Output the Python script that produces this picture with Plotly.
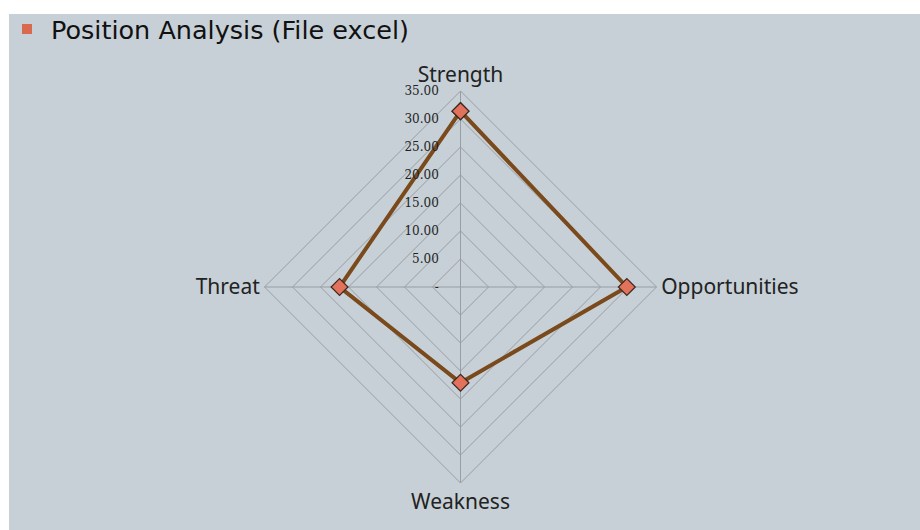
import plotly.graph_objects as go

categories = ["Strength", "Opportunities", "Weakness", "Threat"]
values = [31.4, 29.7, 17.1, 21.6]
tick_vals = [0, 5, 10, 15, 20, 25, 30, 35]
tick_text = ["-", "5.00", "10.00", "15.00", "20.00", "25.00", "30.00", "35.00"]
title_text = "Position Analysis (File excel)"

W, H = 920, 530
cx, cy, R = 460.5, 287, 196

fig = go.Figure()
fig.add_trace(go.Scatterpolar(
    r=values + values[:1],
    theta=categories + categories[:1],
    mode="lines+markers",
    line=dict(color="#7a4a1c", width=4),
    marker=dict(symbol="diamond", size=13, color="#e2725b",
                line=dict(color="#3a2a20", width=1.2)),
    showlegend=False,
))

fig.update_layout(
    width=W, height=H,
    margin=dict(l=0, r=0, t=0, b=0),
    paper_bgcolor="white",
    plot_bgcolor="rgba(0,0,0,0)",
    polar=dict(
        domain=dict(x=[(cx - R) / W, (cx + R) / W],
                    y=[(H - cy - R) / H, (H - cy + R) / H]),
        bgcolor="rgba(0,0,0,0)",
        gridshape="linear",
        angularaxis=dict(
            rotation=90, direction="clockwise",
            showline=True, linecolor="#9a9ea2", linewidth=1,
            gridcolor="#9a9ea2", gridwidth=1,
            ticks="",
            tickfont=dict(family="Noto Sans", size=21, color="#222222"),
        ),
        radialaxis=dict(
            range=[0, 35], angle=90, tickangle=90,
            side="counterclockwise",
            tickvals=tick_vals, ticktext=tick_text,
            showline=False,
            gridcolor="#9a9ea2", gridwidth=1,
            ticks="outside", ticklen=17, tickcolor="rgba(0,0,0,0)",
            tickfont=dict(family="DejaVu Serif", size=12, color="#222222"),
        ),
    ),
    shapes=[
        dict(type="rect", xref="paper", yref="paper", layer="below",
             x0=9 / W, x1=1, y0=0, y1=(H - 14) / H,
             fillcolor="#c6d0d6", line=dict(width=0)),
        dict(type="rect", xref="paper", yref="paper",
             x0=22 / W, x1=32 / W, y0=(H - 34) / H, y1=(H - 24) / H,
             fillcolor="#d9694f", line=dict(width=0)),
    ],
    annotations=[
        dict(text=title_text, xref="paper", yref="paper",
             x=49 / W, y=(H - 30) / H, xanchor="left", yanchor="middle",
             showarrow=False,
             font=dict(family="DejaVu Sans", size=25.5, color="#111111")),
    ],
)

fig.write_html("out.html", config={"displayModeBar": False},
               post_script="document.body.style.margin='0';document.body.style.padding='0';")
